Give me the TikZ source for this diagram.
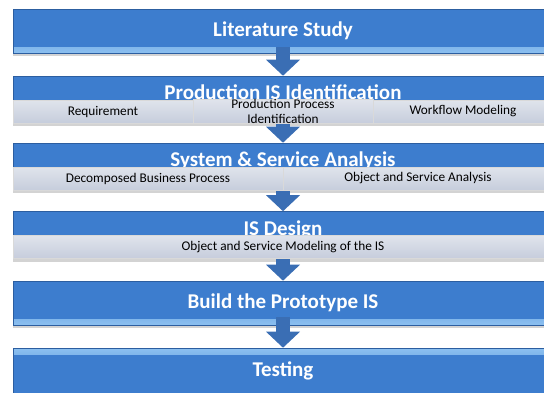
\documentclass[tikz,border=0pt]{standalone}
\usepackage{fontspec}
\setmainfont{Carlito}
\usetikzlibrary{arrows.meta,shadows}
\definecolor{barblue}{RGB}{61,125,206}
\definecolor{bardark}{RGB}{44,94,160}
\definecolor{barlight}{RGB}{140,192,240}
\definecolor{subgray}{RGB}{198,205,220}
\definecolor{arrowblue}{RGB}{58,110,180}

\tikzset{
  bar/.style     = {rectangle, minimum width=540pt, minimum height=44pt,
                    inner sep=0pt, fill=barblue, draw=bardark, line width=0.6pt,
                    text=white, font=\bfseries\fontsize{21}{24}\selectfont,
                    drop shadow={shadow xshift=0pt, shadow yshift=-3pt, opacity=0.35}},
  barlow/.style  = {bar, path picture={\fill[top color=barblue, bottom color=barlight]
                    ([yshift=6pt]path picture bounding box.south west)
                    rectangle (path picture bounding box.south east);}},
  barhigh/.style = {bar, path picture={\fill[bottom color=barblue, top color=barlight]
                    ([yshift=-6pt]path picture bounding box.north west)
                    rectangle (path picture bounding box.north east);}},
  title/.style   = {text=white, font=\bfseries\fontsize{21}{24}\selectfont},
  subbox/.style  = {rectangle, minimum width=180pt, minimum height=23pt, inner sep=0pt,
                    top color=subgray!55!white, bottom color=subgray,
                    draw=gray!30, line width=0.4pt,
                    font=\fontsize{13.3}{14.5}\selectfont, align=center},
  flow/.style    = {draw=arrowblue, line width=14pt,
                    -{Triangle[width=34pt, length=16pt, line width=0pt]}}
}

\begin{document}
\begin{tikzpicture}[x=1pt, y=-1pt]
\useasboundingbox (0,0) rectangle (544,392);

% bars
\node[barlow]  (literature) at (283,31)    {Literature Study};
\node[bar, minimum height=47pt] (production) at (283,99.5)  {};
\node[bar, minimum height=47pt] (analysis)   at (283,166.5) {};
\node[bar, minimum height=47pt] (design)     at (283,235)   {};
\node[barlow]  (prototype)  at (283,303)   {Build the Prototype IS};
\node[barhigh, minimum height=46pt] (testing) at (283,371) {Testing};

% arrows
\draw[flow] ([yshift=6pt]literature.south) -- (production.north);
\draw[flow] ([yshift=6pt]production.south) -- (analysis.north);
\draw[flow] ([yshift=6pt]analysis.south)   -- (design.north);
\draw[flow] ([yshift=6pt]design.south)     -- (prototype.north);
\draw[flow] ([yshift=8pt]prototype.south)  -- (testing.north);

% part production
\node[title, anchor=base] (productiontitle) at (283,99) {Production IS Identification};
\node[subbox] (requirement) at (103,111.5) {Requirement};
\node[subbox] (process)     at (283,111.5) {Production Process\\Identification};
\node[subbox] (workflow)    at (463,111.5) {Workflow Modeling};

% part analysis
\node[title, anchor=base] (analysistitle) at (283,166) {System \& Service Analysis};
\node[subbox, minimum width=270pt] (decomposed) at (148,178.5) {Decomposed Business Process};
\node[subbox, minimum width=270pt] (objects)    at (418,178.5) {Object and Service Analysis};

% part design
\node[title, anchor=base] (designtitle) at (283,235) {IS Design};
\node[subbox, minimum width=540pt] (modeling) at (283,247) {Object and Service Modeling of the IS};

\end{tikzpicture}
\end{document}
